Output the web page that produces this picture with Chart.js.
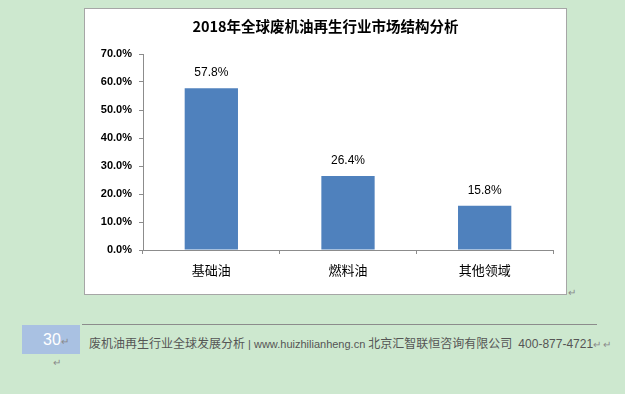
<!DOCTYPE html>
<html>
<head>
<meta charset="utf-8">
<script src="https://cdn.jsdelivr.net/npm/chart.js@4/dist/chart.umd.min.js"></script>
<style>
  body { margin: 0; width: 625px; height: 394px; background: #cde8cf; position: relative; overflow: hidden;
         font-family: "Noto Sans CJK SC", "Noto Sans", sans-serif; }
  #box { position: absolute; left: 84px; top: 8px; width: 481px; height: 285px; background: #fff; border: 1px solid #a6a6a6; }
  .mark { position: absolute; color: #8a8a8a; font-size: 10px; }
  #line { position: absolute; left: 82px; top: 324px; width: 515px; height: 1px; background: #8c8c8c; }
  #page { position: absolute; left: 22px; top: 325px; width: 58px; height: 29px; background: #a9c1e2;
          color: #fff; font-family: "Liberation Sans Narrow", "Liberation Sans", sans-serif; font-size: 16px; line-height: 29px; }
  #foot { position: absolute; left: 89px; top: 334px; color: #555; font-size: 12px; white-space: nowrap; }
  #foot .url { font-size: 11px; font-family: "Liberation Sans Narrow", "Liberation Sans", sans-serif; }
  #foot .tel { font-size: 12px; font-family: "Liberation Sans Narrow", "Liberation Sans", sans-serif; margin-left: 6px; }
</style>
</head>
<body>
<div id="box"><canvas id="chart" width="481" height="285"></canvas></div>
<span class="mark" style="left:568px; top:284px;">↵</span>
<div id="line"></div>
<div id="page"><span style="margin-left:21px;">30</span><span style="font-size:10px; color:#8a8a8a;">↵</span></div>
<span class="mark" style="left:53px; top:354px;">↵</span>
<div id="foot">废机油再生行业全球发展分析<span class="url"> | www.huizhilianheng.cn </span>北京汇智联恒咨询有限公司<span class="tel">400-877-4721</span><span style="font-size:10px; color:#8a8a8a;">↵ ↵</span></div>
<script>
// Chart data
const categories = ['基础油', '燃料油', '其他领域'];
const shares = [0.578, 0.264, 0.158];
const titleText = '2018年全球废机油再生行业市场结构分析';

const barColor = '#4f81bd';
const axisColor = '#8c8c8c';

// Value labels above each bar
const valueLabels = {
    id: 'valueLabels',
    afterDatasetsDraw(chart) {
        const ctx = chart.ctx;
        const meta = chart.getDatasetMeta(0);
        ctx.save();
        ctx.font = '12px "Liberation Sans", Arial, sans-serif';
        ctx.fillStyle = '#000';
        ctx.textAlign = 'center';
        ctx.textBaseline = 'middle';
        meta.data.forEach((bar, i) => {
            ctx.fillText((shares[i] * 100).toFixed(1) + '%', bar.x, bar.y - 15);
        });
        ctx.restore();
    }
};

new Chart(document.getElementById('chart'), {
    type: 'bar',
    data: {
        labels: categories,
        datasets: [{
            data: shares,
            backgroundColor: barColor,
            borderWidth: 0,
            categoryPercentage: 1,
            barPercentage: 0.39
        }]
    },
    options: {
        responsive: false,
        animation: false,
        layout: { padding: { left: 13, right: 13, top: 0, bottom: 0 } },
        plugins: {
            legend: { display: false },
            tooltip: { enabled: false },
            title: {
                display: true,
                text: titleText,
                color: '#000',
                font: { size: 14.5, weight: 'bold', family: '"Noto Sans CJK SC", sans-serif' },
                padding: { top: 9, bottom: 18.6 }
            }
        },
        scales: {
            y: {
                min: 0,
                max: 0.7,
                ticks: {
                    stepSize: 0.1,
                    color: '#000',
                    padding: 7,
                    font: { size: 11, weight: 'bold', family: '"Liberation Sans", Arial, sans-serif' },
                    callback: v => (v * 100).toFixed(1) + '%'
                },
                grid: { drawOnChartArea: false, drawTicks: true, tickLength: 4, color: axisColor },
                border: { color: axisColor },
                afterFit(scale) { scale.width = 45; }
            },
            x: {
                ticks: {
                    color: '#000',
                    padding: 8,
                    font: { size: 13, family: '"Noto Sans CJK SC", sans-serif' }
                },
                grid: { drawOnChartArea: false, drawTicks: true, tickLength: 4, color: axisColor, offset: true },
                border: { color: axisColor },
                afterFit(scale) { scale.height = 44; }
            }
        }
    },
    plugins: [valueLabels]
});
</script>
</body>
</html>
